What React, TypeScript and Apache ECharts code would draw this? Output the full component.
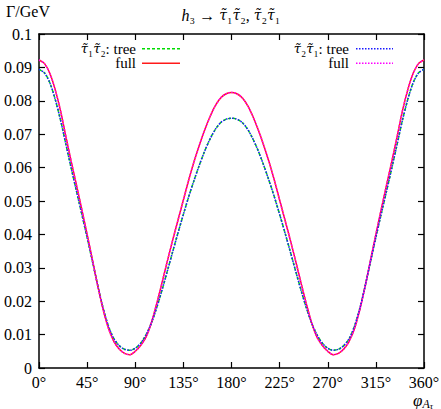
import React, { useEffect, useRef } from "react";
import * as echarts from "echarts";

const angles = [
  0, 5, 10, 15, 20, 25, 30, 35, 40, 45, 50, 55, 60, 65, 70, 75, 80, 85, 90,
  95, 100, 105, 110, 115, 120, 125, 130, 135, 140, 145, 150, 155, 160, 165,
  170, 175, 180, 185, 190, 195, 200, 205, 210, 215, 220, 225, 230, 235, 240,
  245, 250, 255, 260, 265, 270, 275, 280, 285, 290, 295, 300, 305, 310, 315,
  320, 325, 330, 335, 340, 345, 350, 355, 360,
];

const tree12 = [
  0.0894, 0.0884, 0.0855, 0.0806, 0.0744, 0.0672, 0.06, 0.053, 0.0461, 0.0391,
  0.0319, 0.0246, 0.0179, 0.0125, 0.0088, 0.0067, 0.0056, 0.0053, 0.0059,
  0.0074, 0.0099, 0.0134, 0.018, 0.0233, 0.029, 0.0348, 0.0405, 0.046, 0.0513,
  0.0562, 0.0608, 0.065, 0.0686, 0.0715, 0.0735, 0.0745, 0.0748, 0.0745,
  0.0735, 0.0715, 0.0686, 0.065, 0.0608, 0.0562, 0.0513, 0.046, 0.0405,
  0.0348, 0.029, 0.0233, 0.018, 0.0134, 0.0099, 0.0074, 0.0059, 0.0053,
  0.0056, 0.0067, 0.0088, 0.0125, 0.0179, 0.0246, 0.0319, 0.0391, 0.0461,
  0.053, 0.06, 0.0672, 0.0744, 0.0806, 0.0855, 0.0884, 0.0894,
];

const full12 = [
  0.0922, 0.0912, 0.0883, 0.0835, 0.0772, 0.0695, 0.062, 0.0548, 0.0475, 0.04,
  0.0323, 0.0245, 0.0175, 0.0118, 0.008, 0.0057, 0.0044, 0.004, 0.005, 0.0067,
  0.0092, 0.0135, 0.0192, 0.0255, 0.032, 0.0383, 0.0443, 0.0503, 0.0563,
  0.0618, 0.0668, 0.0713, 0.0753, 0.0786, 0.0809, 0.0821, 0.0825, 0.0821,
  0.0809, 0.0786, 0.0753, 0.0713, 0.0668, 0.0618, 0.0563, 0.0503, 0.0443,
  0.0383, 0.032, 0.0255, 0.0192, 0.0135, 0.0092, 0.0067, 0.005, 0.004, 0.0044,
  0.0057, 0.008, 0.0118, 0.0175, 0.0245, 0.0323, 0.04, 0.0475, 0.0548, 0.062,
  0.0695, 0.0772, 0.0835, 0.0883, 0.0912, 0.0922,
];

const tree21 = [
  0.0894, 0.0884, 0.0855, 0.0806, 0.0744, 0.0672, 0.06, 0.053, 0.0461, 0.0391,
  0.0319, 0.0246, 0.0179, 0.0125, 0.0088, 0.0067, 0.0056, 0.0053, 0.0059,
  0.0074, 0.0099, 0.0134, 0.018, 0.0233, 0.029, 0.0348, 0.0405, 0.046, 0.0513,
  0.0562, 0.0608, 0.065, 0.0686, 0.0715, 0.0735, 0.0745, 0.0748, 0.0745,
  0.0735, 0.0715, 0.0686, 0.065, 0.0608, 0.0562, 0.0513, 0.046, 0.0405,
  0.0348, 0.029, 0.0233, 0.018, 0.0134, 0.0099, 0.0074, 0.0059, 0.0053,
  0.0056, 0.0067, 0.0088, 0.0125, 0.0179, 0.0246, 0.0319, 0.0391, 0.0461,
  0.053, 0.06, 0.0672, 0.0744, 0.0806, 0.0855, 0.0884, 0.0894,
];

const full21 = [
  0.0922, 0.0912, 0.0883, 0.0835, 0.0772, 0.0695, 0.062, 0.0548, 0.0475, 0.04,
  0.0323, 0.0245, 0.0175, 0.0118, 0.008, 0.0057, 0.0044, 0.004, 0.005, 0.0067,
  0.0092, 0.0135, 0.0192, 0.0255, 0.032, 0.0383, 0.0443, 0.0503, 0.0563,
  0.0618, 0.0668, 0.0713, 0.0753, 0.0786, 0.0809, 0.0821, 0.0825, 0.0821,
  0.0809, 0.0786, 0.0753, 0.0713, 0.0668, 0.0618, 0.0563, 0.0503, 0.0443,
  0.0383, 0.032, 0.0255, 0.0192, 0.0135, 0.0092, 0.0067, 0.005, 0.004, 0.0044,
  0.0057, 0.008, 0.0118, 0.0175, 0.0245, 0.0323, 0.04, 0.0475, 0.0548, 0.062,
  0.0695, 0.0772, 0.0835, 0.0883, 0.0912, 0.0922,
];

const FONT = "'Liberation Serif', 'DejaVu Serif', serif";
const TAU_FONT = "'DejaVu Serif', 'Liberation Serif', serif";

const C_TREE12 = "#00dc00";
const C_FULL12 = "#ff1a1a";
const C_TREE21 = "#1a1aff";
const C_FULL21 = "#ff00ff";
const DASH_TREE12 = [3, 2];
const DASH_DOT = [1.5, 1.5];

const rich = {
  i: { fontStyle: "italic", fontFamily: FONT, fontSize: 16, fill: "#000" },
  t: { fontStyle: "italic", fontFamily: TAU_FONT, fontSize: 14, fill: "#000" },
  n: { fontFamily: FONT, fontSize: 16, fill: "#000" },
};

const legendRich = {
  t: { fontStyle: "italic", fontFamily: TAU_FONT, fontSize: 13, fill: "#000", lineHeight: 12 },
  n: { fontFamily: FONT, fontSize: 15, fill: "#000", lineHeight: 12 },
};

const ROW1 = 48.8;
const ROW2 = 63.2;

function legendText(x: number, y: number, text: string) {
  return {
    type: "text",
    x,
    y,
    style: { text, rich: legendRich, textAlign: "right", textVerticalAlign: "middle" },
  };
}

function legendLine(x1: number, x2: number, y: number, stroke: string, dash: number[] | null) {
  return {
    type: "line",
    shape: { x1, y1: y, x2, y2: y },
    style: { stroke, lineWidth: 1.5, lineDash: dash || undefined },
  };
}

export default function App() {
  const ref = useRef<HTMLDivElement>(null);
  useEffect(() => {
    if (!ref.current) return;
    const chart = echarts.init(ref.current, null, { renderer: "svg" });
    const pair = (ys: number[]) => angles.map((a, i) => [a, ys[i]]);
    const axisCommon = {
      type: "value",
      axisLine: { show: true, onZero: false, lineStyle: { color: "#000", width: 1.5 } },
      axisTick: { show: true, inside: true, length: 6, lineStyle: { color: "#000", width: 1.2 } },
      splitLine: { show: false },
    };
    const xCommon = { ...axisCommon, min: 0, max: 360, interval: 45 };
    const yCommon = { ...axisCommon, min: 0, max: 0.1, interval: 0.01 };
    chart.setOption({
      animation: false,
      backgroundColor: "#fff",
      grid: { left: 39, right: 17, top: 34, bottom: 41, containLabel: false, outerBoundsMode: "none" },
      xAxis: [
        {
          ...xCommon,
          position: "bottom",
          axisLabel: {
            color: "#000",
            fontFamily: FONT,
            fontSize: 16,
            margin: 6,
            formatter: (v: number) => `${v}°`,
          },
        },
        { ...xCommon, position: "top", axisLabel: { show: false } },
      ],
      yAxis: [
        {
          ...yCommon,
          position: "left",
          axisLabel: {
            color: "#000",
            fontFamily: FONT,
            fontSize: 16,
            margin: 7,
            formatter: (v: number) => String(Math.round(v * 100) / 100),
          },
        },
        { ...yCommon, position: "right", axisLabel: { show: false } },
      ],
      graphic: [
        {
          type: "text",
          x: 28,
          y: 11,
          style: {
            text: "Γ/GeV",
            font: `16px ${FONT}`,
            fill: "#000",
            textAlign: "center",
            textVerticalAlign: "middle",
          },
        },
        {
          type: "text",
          x: 231,
          y: 15,
          style: {
            text: "{i|h}{n|₃ → }{t|τ̃}{n|₁}{t|τ̃}{n|₂, }{t|τ̃}{n|₂}{t|τ̃}{n|₁}",
            textAlign: "center",
            textVerticalAlign: "middle",
            rich,
          },
        },
        {
          type: "text",
          x: 423,
          y: 400,
          style: {
            text: "{a|φ}{b|A}{c|τ}",
            textAlign: "center",
            textVerticalAlign: "middle",
            rich: {
              a: { fontStyle: "italic", fontFamily: FONT, fontSize: 17, fill: "#000" },
              b: { fontStyle: "italic", fontFamily: FONT, fontSize: 12, fill: "#000", padding: [7, 0, 0, 0] },
              c: { fontStyle: "italic", fontFamily: FONT, fontSize: 9, fill: "#000", padding: [11, 0, 0, 0] },
            },
          },
        },
        legendText(136, ROW1, "{t|τ̃}{n|₁}{t|τ̃}{n|₂: tree}"),
        legendLine(142, 180, ROW1, C_TREE12, DASH_TREE12),
        legendText(136, ROW2, "{n|full}"),
        legendLine(142, 180, ROW2, C_FULL12, null),
        legendText(349, ROW1, "{t|τ̃}{n|₂}{t|τ̃}{n|₁: tree}"),
        legendLine(356, 393, ROW1, C_TREE21, DASH_DOT),
        legendText(349, ROW2, "{n|full}"),
        legendLine(356, 393, ROW2, C_FULL21, DASH_DOT),
      ],
      series: [
        {
          name: "τ̃₁τ̃₂: tree",
          type: "line",
          data: pair(tree12),
          symbol: "none",
          smooth: 0.3,
          lineStyle: { color: C_TREE12, width: 1.5, type: DASH_TREE12 },
          z: 2,
        },
        {
          name: "τ̃₁τ̃₂: full",
          type: "line",
          data: pair(full12),
          symbol: "none",
          smooth: 0.3,
          lineStyle: { color: C_FULL12, width: 1.5, type: "solid" },
          z: 2,
        },
        {
          name: "τ̃₂τ̃₁: tree",
          type: "line",
          data: pair(tree21),
          symbol: "none",
          smooth: 0.3,
          lineStyle: { color: C_TREE21, width: 1.5, type: DASH_DOT },
          z: 3,
        },
        {
          name: "τ̃₂τ̃₁: full",
          type: "line",
          data: pair(full21),
          symbol: "none",
          smooth: 0.3,
          lineStyle: { color: C_FULL21, width: 1.5, type: DASH_DOT },
          z: 3,
        },
      ],
    });
    return () => chart.dispose();
  }, []);
  return (
    <div
      ref={ref}
      style={{ position: "fixed", left: 0, top: 0, width: 441, height: 409 }}
    />
  );
}
